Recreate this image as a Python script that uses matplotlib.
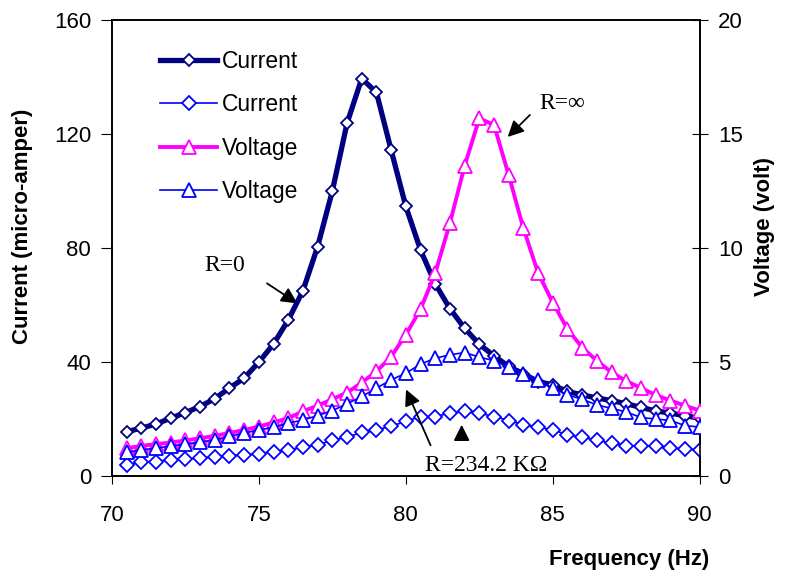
import matplotlib
matplotlib.use('Agg')
import matplotlib.pyplot as plt

# frecuencias (Hz), cada 0.5 Hz
freq = [70.5 + 0.5 * i for i in range(40)]

# corriente R=0 (micro-amper)
current_r0 = [15.5, 16.7, 18.2, 20.2, 22.2, 24.3, 27.1, 30.8, 34.3, 39.9,
              46.3, 54.7, 65.0, 80.5, 100.0, 123.8, 139.5, 134.6, 114.4, 94.6,
              79.3, 67.4, 58.7, 51.8, 46.2, 42.1, 38.4, 35.8, 33.1, 31.9,
              29.6, 28.4, 27.3, 26.4, 25.3, 24.0, 22.8, 22.0, 21.1, 20.2]

# corriente R=234.2 KOhm (micro-amper)
current_rk = [3.9, 4.7, 5.0, 5.6, 5.9, 6.2, 6.6, 7.0, 7.4, 7.7,
              8.5, 8.9, 10.1, 10.9, 12.4, 13.6, 15.2, 16.1, 17.4, 19.1,
              20.8, 20.8, 22.0, 22.6, 22.0, 20.8, 19.4, 17.9, 17.1, 16.1,
              14.4, 13.6, 12.4, 11.5, 10.6, 10.3, 10.5, 9.7, 9.4, 9.1]

# tension R=inf (volt)
voltage_rinf = [1.21, 1.31, 1.39, 1.46, 1.55, 1.65, 1.75, 1.88, 2.01, 2.16,
                2.34, 2.53, 2.83, 3.08, 3.36, 3.65, 4.09, 4.58, 5.23, 6.19,
                7.31, 8.89, 11.09, 13.60, 15.69, 15.40, 13.20, 10.86, 8.91, 7.60,
                6.44, 5.63, 5.05, 4.54, 4.16, 3.85, 3.55, 3.30, 3.08, 2.86]

# tension R=234.2 KOhm (volt)
voltage_rk = [1.03, 1.14, 1.21, 1.31, 1.39, 1.48, 1.58, 1.73, 1.88, 2.01,
              2.13, 2.31, 2.45, 2.64, 2.86, 3.16, 3.48, 3.85, 4.21, 4.50,
              4.90, 5.16, 5.31, 5.41, 5.21, 5.05, 4.76, 4.48, 4.21, 3.85,
              3.55, 3.36, 3.11, 2.96, 2.80, 2.56, 2.49, 2.43, 2.20, 2.14]

NAVY = '#000080'
BLUE = '#0000FF'
MAGENTA = '#FF00FF'

plt.rcParams['font.family'] = ['Liberation Sans', 'DejaVu Sans']

fig = plt.figure(figsize=(7.88, 5.76), dpi=100)
ax = fig.add_axes([0.142, 0.174, 0.746, 0.791])
ax2 = ax.twinx()

# ejes
ax.set_xlim(70, 90)
ax.set_ylim(0, 160)
ax2.set_ylim(0, 20)
ax.set_xticks([70, 75, 80, 85, 90])
ax.set_yticks([0, 40, 80, 120, 160])
ax2.set_yticks([0, 5, 10, 15, 20])
ax.tick_params(axis='y', direction='out', length=8, labelsize=16, pad=7)
ax.tick_params(axis='x', direction='out', length=6, labelsize=16, pad=15)
ax2.tick_params(axis='y', direction='inout', length=12, labelsize=16, pad=7)
for a in (ax, ax2):
    for s in a.spines.values():
        s.set_linewidth(1.2)

ax.set_ylabel('Current (micro-amper)', fontsize=16, fontweight='bold')
ax.yaxis.set_label_coords(-0.134, 0.548)
ax2.set_ylabel('Voltage (volt)', fontsize=16, fontweight='bold')
ax2.yaxis.set_label_coords(1.092, 0.548)
ax.set_xlabel('Frequency (Hz)', fontsize=16, fontweight='bold')
ax.xaxis.set_label_coords(0.88, -0.16)

# series
l1, = ax.plot(freq, current_r0, '-D', color=NAVY, lw=3.8, ms=6.5,
              mfc='white', mec=NAVY, mew=1.3, zorder=4)
l2, = ax.plot(freq, current_rk, '-D', color=BLUE, lw=1.2, ms=7.5,
              mfc='white', mec=BLUE, mew=1.3, zorder=3)
l3, = ax2.plot(freq, voltage_rinf, '-^', color=MAGENTA, lw=2.8, ms=9.5,
               mfc='white', mec=MAGENTA, mew=1.3, zorder=3)
l4, = ax2.plot(freq, voltage_rk, '-^', color=BLUE, lw=1.2, ms=9.5,
               mfc='white', mec=BLUE, mew=1.3, zorder=4)

# anotaciones
arrow = dict(arrowstyle='-|>', color='black', lw=1.3, mutation_scale=24)
tfont = dict(family=['Liberation Serif', 'DejaVu Serif'], fontsize=17)
ax.text(73.84, 74.0, 'R=0', ha='center', va='center', **tfont)
ax.annotate('', xy=(76.39, 60.0), xytext=(75.2, 68.1), arrowprops=arrow)
ax.text(85.34, 130.9, 'R=∞', ha='center', va='center', **tfont)
ax.annotate('', xy=(83.4, 118.3), xytext=(84.29, 127.4), arrowprops=arrow)
ax.text(82.72, 3.6, 'R=234.2 KΩ', ha='center', va='center', **tfont)
ax.annotate('', xy=(79.97, 31.2), xytext=(80.88, 9.8), arrowprops=arrow)
ax.annotate('', xy=(81.9, 18.9), xytext=(81.9, 13.3), arrowprops=arrow)

# leyenda
leg = ax2.legend([l1, l2, l3, l4], ['Current', 'Current', 'Voltage', 'Voltage'],
                 loc='upper left', bbox_to_anchor=(0.066, 0.954), fontsize=16.5,
                 handlelength=2.5, labelspacing=0.88, handletextpad=0.2,
                 borderpad=0.4, borderaxespad=0,
                 frameon=True, fancybox=False)
leg.get_frame().set_edgecolor('none')
leg.get_frame().set_facecolor('white')
leg.get_frame().set_alpha(1.0)

fig.savefig('out.png', dpi=100)
